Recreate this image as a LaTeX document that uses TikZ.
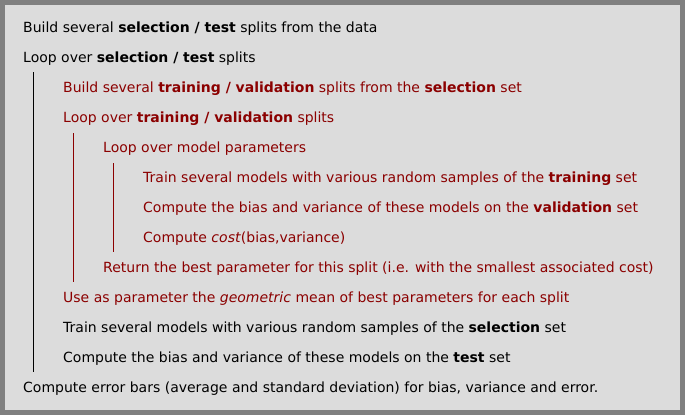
\documentclass[tikz,border=0pt]{standalone}
\usepackage{fontspec}
\setmainfont{DejaVu Sans}
\definecolor{panel}{HTML}{DCDCDC}
\definecolor{frame}{HTML}{808080}
\definecolor{dred}{HTML}{8B0000}
\tikzset{
  line/.style={anchor=base west, inner sep=0pt, font=\fontsize{14}{16}\selectfont},
  redline/.style={line, text=dred},
  bar/.style={line width=1pt, line cap=butt},
}
\begin{document}
\begin{tikzpicture}[x=1pt,y=-1pt]
\useasboundingbox (0,0) rectangle (685,415);
\fill[frame] (0,0) rectangle (685,415);
\fill[panel] (5,5) rectangle (680,410);
\node[line] (l1) at (23,32) {Build several \textbf{selection / test} splits from the data};
\node[line] (l2) at (23,62) {Loop over \textbf{selection / test} splits};
\node[redline] (l3) at (63,92) {Build several \textbf{training / validation} splits from the \textbf{selection} set};
\node[redline] (l4) at (63,122) {Loop over \textbf{training / validation} splits};
\node[redline] (l5) at (103,152) {Loop over model parameters};
\node[redline] (l6) at (143,182) {Train several models with various random samples of the \textbf{training} set};
\node[redline] (l7) at (143,212) {Compute the bias and variance of these models on the \textbf{validation} set};
\node[redline] (l8) at (143,242) {Compute \textit{cost}(bias,variance)};
\node[redline] (l9) at (103,272) {Return the best parameter for this split (i.e. with the smallest associated cost)};
\node[redline] (l10) at (63,302) {Use as parameter the \textit{geometric} mean of best parameters for each split};
\node[line] (l11) at (63,332) {Train several models with various random samples of the \textbf{selection} set};
\node[line] (l12) at (63,362) {Compute the bias and variance of these models on the \textbf{test} set};
\node[line] (l13) at (23,392) {Compute error bars (average and standard deviation) for bias, variance and error.};
\coordinate (a1) at (33,72); \coordinate (a2) at (33,372);
\coordinate (b1) at (73,133); \coordinate (b2) at (73,282);
\coordinate (c1) at (113,163); \coordinate (c2) at (113,252);
\draw[bar, black] (a1) -- (a2);
\draw[bar, dred] (b1) -- (b2);
\draw[bar, dred] (c1) -- (c2);
\end{tikzpicture}
\end{document}
